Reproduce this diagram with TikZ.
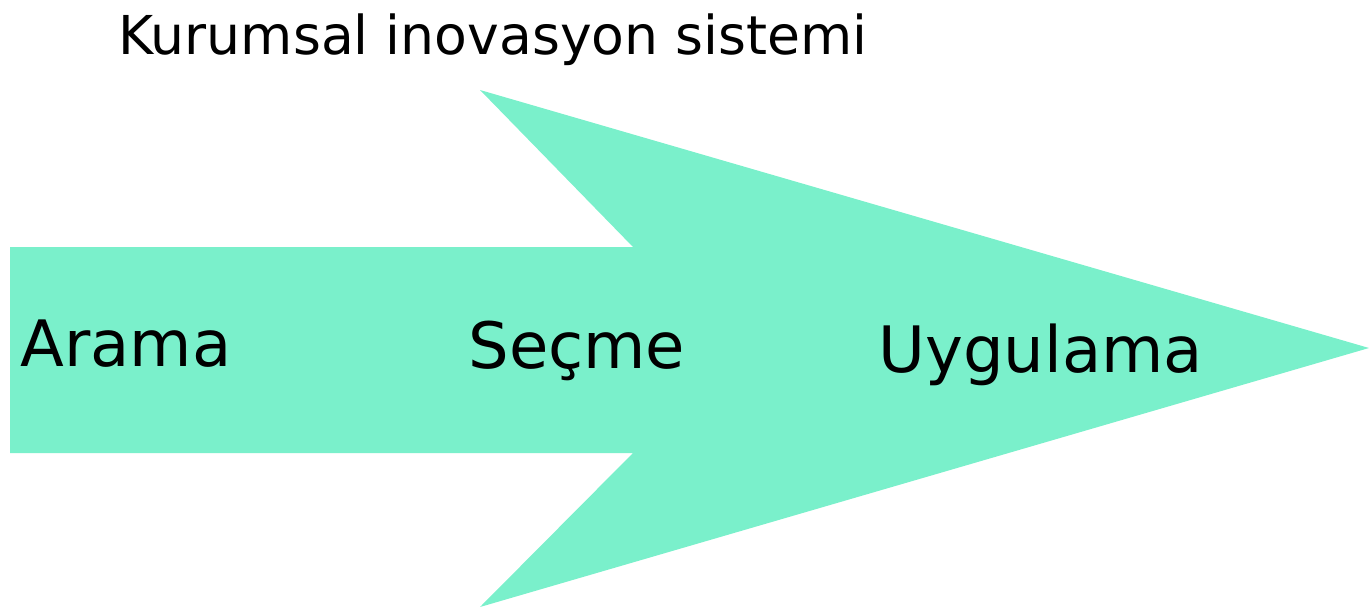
\documentclass[tikz,border=0pt]{standalone}
\usepackage{fontspec}
\setmainfont{DejaVu Sans}
\definecolor{arrowfill}{RGB}{122,240,203}
\begin{document}
\begin{tikzpicture}[x=0.5pt,y=-0.5pt,
  lbl/.style={anchor=base west,inner sep=0pt,font=\fontsize{32}{36}\selectfont},
  ttl/.style={anchor=base west,inner sep=0pt,font=\fontsize{26.8}{30}\selectfont}]
\useasboundingbox (0,0) rectangle (1369,609);
\fill[arrowfill] (10,247) -- (633,247) -- (480,90) -- (1369,348) -- (480,607) -- (633,453) -- (10,453) -- cycle;
\node[ttl] (title) at (118,55) {Kurumsal inovasyon sistemi};
\node[lbl] (arama) at (20,366) {Arama};
\node[lbl] (secme) at (468,368) {Seçme};
\node[lbl] (uyg) at (878,372) {Uygulama};
\end{tikzpicture}
\end{document}
